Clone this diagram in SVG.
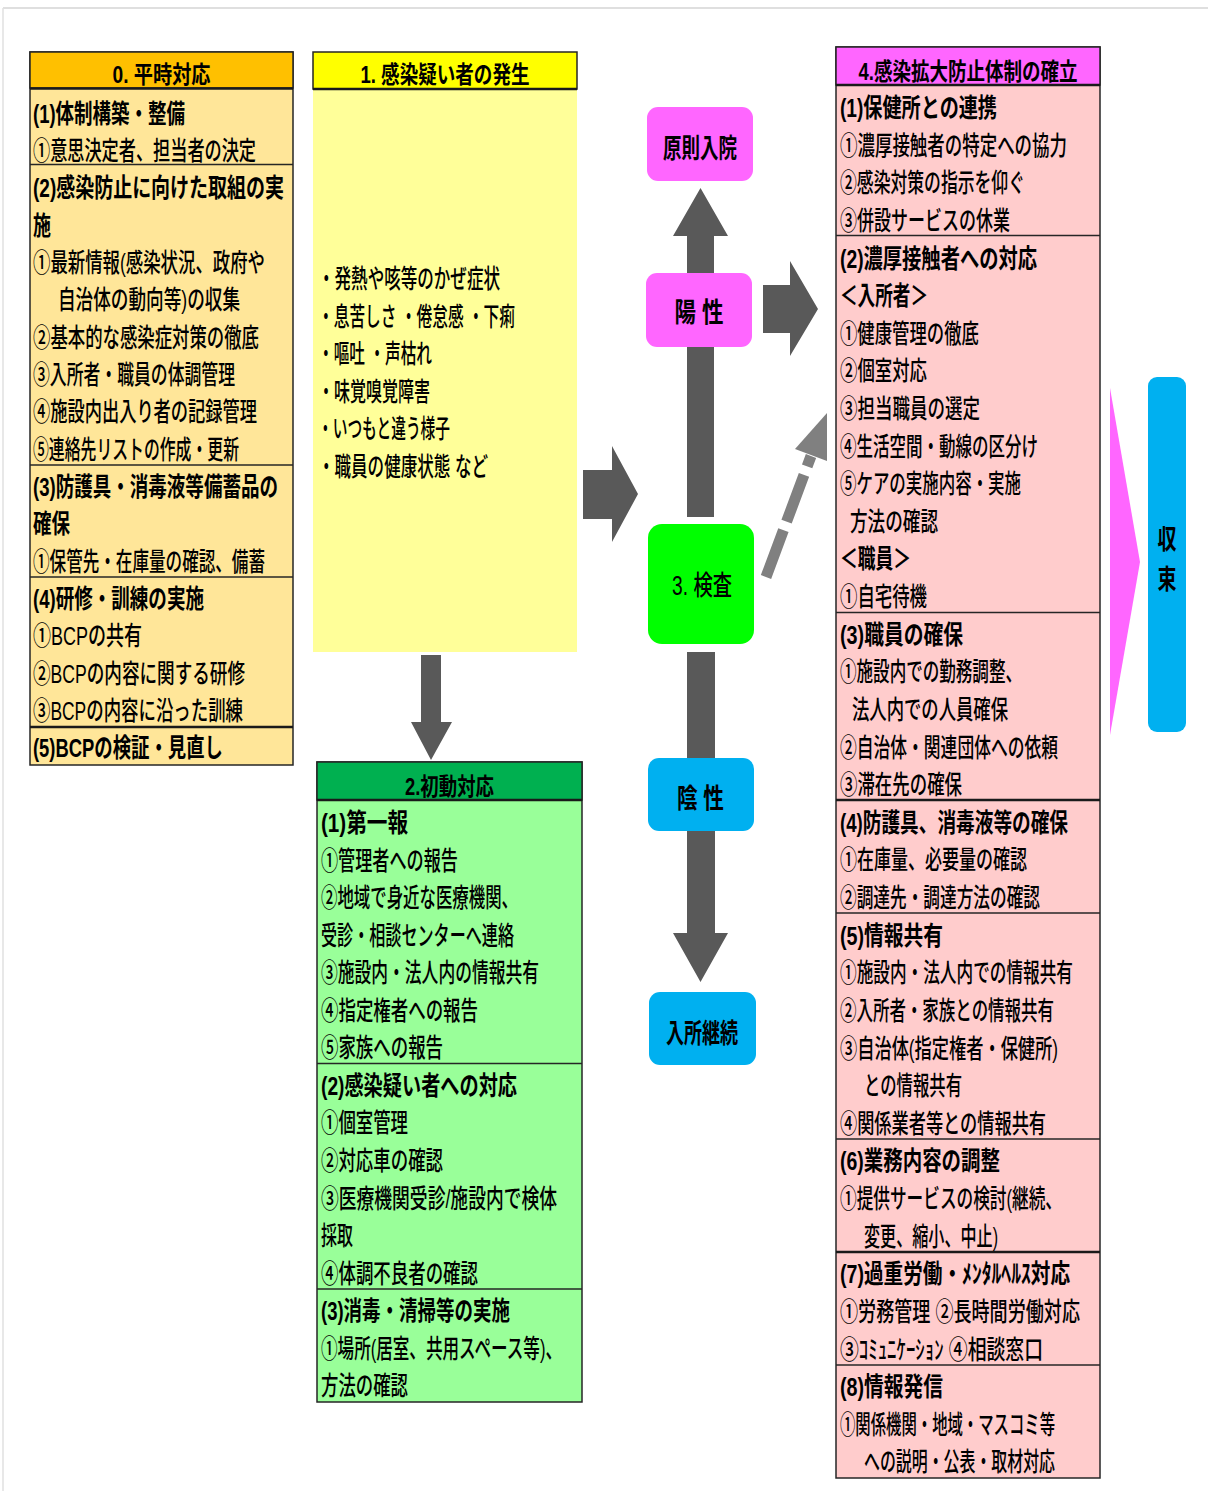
<svg xmlns="http://www.w3.org/2000/svg" width="1208" height="1491" viewBox="0 0 1208 1491">
<style>
.t{font-family:'Liberation Sans','Noto Sans CJK JP',sans-serif;font-size:26px;fill:#000;font-weight:500}
.h{font-family:'Liberation Sans','Noto Sans CJK JP',sans-serif;font-size:24px;fill:#000;font-weight:700;text-anchor:middle}
.m{font-family:'Liberation Sans','Noto Sans CJK JP',sans-serif;font-size:27px;fill:#000;font-weight:700;text-anchor:middle}
.b{font-weight:700}
.box{stroke:#262626;stroke-width:1.5}
.dv{stroke:#262626;stroke-width:1.3}
.dvt{stroke:#1a1a1a;stroke-width:2.6}
.arr{fill:#595959}
</style>
<rect width="1208" height="1491" fill="#fff"/>
<line x1="3" y1="8" x2="1208" y2="8" stroke="#d4d4d4" stroke-width="1.5"/>
<line x1="3" y1="8" x2="3" y2="1491" stroke="#e0e0e0" stroke-width="1.5"/>

<g id="connectors">
  <polygon class="arr" points="421,655 441,655 441,722 452,722 431,760 411,722 421,722"/>
  <polygon class="arr" points="583,470 612,470 612,446 638,494 612,542 612,519 583,519"/>
  <polygon class="arr" points="687,517 687,236 673,236 700.5,188 728,236 714,236 714,517"/>
  <polygon class="arr" points="687,652 715,652 715,933 728,933 700.5,982 673,933 687,933"/>
  <polygon class="arr" points="763,285 790,285 790,261 818,309 790,356 790,333 763,333"/>
  <line x1="766" y1="577" x2="811" y2="456" stroke="#808080" stroke-width="11" stroke-dasharray="50 9"/>
  <polygon fill="#808080" points="827,413 795,449 827,461"/>
  <polygon fill="#FF66FF" points="1110,388 1140,562 1110,735"/>
</g>

<g id="node0">
  <rect x="30" y="52" width="263" height="713" fill="#FFE699" class="box"/>
  <rect x="30" y="52" width="263" height="36" fill="#FFC000" class="box"/>
  <line x1="30" y1="88.5" x2="293" y2="88.5" class="dvt"/>
  <text class="h" x="161.5" y="83" textLength="98" lengthAdjust="spacingAndGlyphs">0. 平時対応</text>
  <line x1="30" y1="164.5" x2="293" y2="164.5" class="dv"/>
  <line x1="30" y1="465" x2="293" y2="465" class="dv"/>
  <line x1="30" y1="577" x2="293" y2="577" class="dv"/>
  <line x1="30" y1="727" x2="293" y2="727" class="dvt"/>
  <text class="t b" x="33" y="122.5" textLength="152" lengthAdjust="spacingAndGlyphs">(1)体制構築・整備</text>
  <text class="t" x="33" y="159.9" textLength="223" lengthAdjust="spacingAndGlyphs">①意思決定者、担当者の決定</text>
  <text class="t b" x="33" y="197.2" textLength="251" lengthAdjust="spacingAndGlyphs">(2)感染防止に向けた取組の実</text>
  <text class="t b" x="33" y="234.6" textLength="18" lengthAdjust="spacingAndGlyphs">施</text>
  <text class="t" x="33" y="271.9" textLength="232" lengthAdjust="spacingAndGlyphs">①最新情報(感染状況、政府や</text>
  <text class="t" x="58" y="309.3" textLength="182" lengthAdjust="spacingAndGlyphs">自治体の動向等)の収集</text>
  <text class="t" x="33" y="346.6" textLength="226" lengthAdjust="spacingAndGlyphs">②基本的な感染症対策の徹底</text>
  <text class="t" x="33" y="383.9" textLength="202" lengthAdjust="spacingAndGlyphs">③入所者・職員の体調管理</text>
  <text class="t" x="33" y="421.3" textLength="224" lengthAdjust="spacingAndGlyphs">④施設内出入り者の記録管理</text>
  <text class="t" x="33" y="458.6" textLength="206" lengthAdjust="spacingAndGlyphs">⑤連絡先リストの作成・更新</text>
  <text class="t b" x="33" y="496" textLength="245" lengthAdjust="spacingAndGlyphs">(3)防護具・消毒液等備蓄品の</text>
  <text class="t b" x="33" y="533.3" textLength="37" lengthAdjust="spacingAndGlyphs">確保</text>
  <text class="t" x="33" y="570.7" textLength="232" lengthAdjust="spacingAndGlyphs">①保管先・在庫量の確認、備蓄</text>
  <text class="t b" x="33" y="608" textLength="171" lengthAdjust="spacingAndGlyphs">(4)研修・訓練の実施</text>
  <text class="t" x="33" y="645.4" textLength="109" lengthAdjust="spacingAndGlyphs">①BCPの共有</text>
  <text class="t" x="33" y="682.7" textLength="212" lengthAdjust="spacingAndGlyphs">②BCPの内容に関する研修</text>
  <text class="t" x="33" y="720.1" textLength="210" lengthAdjust="spacingAndGlyphs">③BCPの内容に沿った訓練</text>
  <text class="t b" x="33" y="757.4" textLength="190" lengthAdjust="spacingAndGlyphs">(5)BCPの検証・見直し</text>
</g>

<g id="node1">
  <rect x="313" y="89" width="264" height="563" fill="#FFFF99"/>
  <rect x="313" y="52" width="264" height="37" fill="#FFFF00" class="box"/>
  <line x1="313" y1="89" x2="577" y2="89" class="dvt"/>
  <text class="h" x="445" y="82.5" textLength="169" lengthAdjust="spacingAndGlyphs">1. 感染疑い者の発生</text>
  <text class="t" x="318" y="288" textLength="182" lengthAdjust="spacingAndGlyphs">・発熱や咳等のかぜ症状</text>
  <text class="t" x="318" y="325.6" textLength="197" lengthAdjust="spacingAndGlyphs">・息苦しさ ・倦怠感 ・下痢</text>
  <text class="t" x="318" y="363.2" textLength="114" lengthAdjust="spacingAndGlyphs">・嘔吐 ・声枯れ</text>
  <text class="t" x="318" y="400.8" textLength="112" lengthAdjust="spacingAndGlyphs">・味覚嗅覚障害</text>
  <text class="t" x="318" y="438.4" textLength="132" lengthAdjust="spacingAndGlyphs">・いつもと違う様子</text>
  <text class="t" x="318" y="476" textLength="170" lengthAdjust="spacingAndGlyphs">・職員の健康状態 など</text>
</g>

<g id="node2">
  <rect x="317" y="762" width="265" height="640" fill="#99FF99" class="box"/>
  <rect x="317" y="762" width="265" height="38" fill="#00B050" class="box"/>
  <line x1="317" y1="800" x2="582" y2="800" class="dvt"/>
  <text class="h" x="449.5" y="795" textLength="89" lengthAdjust="spacingAndGlyphs">2.初動対応</text>
  <line x1="317" y1="1063.5" x2="582" y2="1063.5" class="dv"/>
  <line x1="317" y1="1289" x2="582" y2="1289" class="dv"/>
  <text class="t b" x="321" y="832" textLength="87" lengthAdjust="spacingAndGlyphs">(1)第一報</text>
  <text class="t" x="321" y="869.6" textLength="137" lengthAdjust="spacingAndGlyphs">①管理者への報告</text>
  <text class="t" x="321" y="907.1" textLength="197" lengthAdjust="spacingAndGlyphs">②地域で身近な医療機関、</text>
  <text class="t" x="321" y="944.7" textLength="193" lengthAdjust="spacingAndGlyphs">受診・相談センターへ連絡</text>
  <text class="t" x="321" y="982.2" textLength="218" lengthAdjust="spacingAndGlyphs">③施設内・法人内の情報共有</text>
  <text class="t" x="321" y="1019.8" textLength="157" lengthAdjust="spacingAndGlyphs">④指定権者への報告</text>
  <text class="t" x="321" y="1057.3" textLength="122" lengthAdjust="spacingAndGlyphs">⑤家族への報告</text>
  <text class="t b" x="321" y="1094.9" textLength="196" lengthAdjust="spacingAndGlyphs">(2)感染疑い者への対応</text>
  <text class="t" x="321" y="1132.4" textLength="87" lengthAdjust="spacingAndGlyphs">①個室管理</text>
  <text class="t" x="321" y="1170" textLength="122" lengthAdjust="spacingAndGlyphs">②対応車の確認</text>
  <text class="t" x="321" y="1207.5" textLength="236" lengthAdjust="spacingAndGlyphs">③医療機関受診/施設内で検体</text>
  <text class="t" x="321" y="1245.1" textLength="32" lengthAdjust="spacingAndGlyphs">採取</text>
  <text class="t" x="321" y="1282.6" textLength="157" lengthAdjust="spacingAndGlyphs">④体調不良者の確認</text>
  <text class="t b" x="321" y="1320.2" textLength="189" lengthAdjust="spacingAndGlyphs">(3)消毒・清掃等の実施</text>
  <text class="t" x="321" y="1357.7" textLength="241" lengthAdjust="spacingAndGlyphs">①場所(居室、共用スペース等)、</text>
  <text class="t" x="321" y="1395.3" textLength="87" lengthAdjust="spacingAndGlyphs">方法の確認</text>
</g>

<g id="node-gensoku">
  <rect x="647" y="107" width="106" height="74" rx="11" fill="#FF66FF"/>
  <text class="m" x="700" y="158" textLength="74" lengthAdjust="spacingAndGlyphs">原則入院</text>
</g>
<g id="node-yousei">
  <rect x="646" y="273" width="106" height="74" rx="11" fill="#FF66FF"/>
  <text class="m" x="699" y="322" textLength="49" lengthAdjust="spacingAndGlyphs">陽 性</text>
</g>
<g id="node3">
  <rect x="648" y="524" width="106" height="120" rx="14" fill="#00FF00"/>
  <text class="m" style="font-weight:500" x="702" y="595" textLength="60" lengthAdjust="spacingAndGlyphs">3. 検査</text>
</g>
<g id="node-insei">
  <rect x="648" y="758" width="106" height="73" rx="11" fill="#00B0F0"/>
  <text class="m" x="700.5" y="808" textLength="47" lengthAdjust="spacingAndGlyphs">陰 性</text>
</g>
<g id="node-keizoku">
  <rect x="649" y="992" width="107" height="73" rx="11" fill="#00B0F0"/>
  <text class="m" x="702" y="1043" textLength="72" lengthAdjust="spacingAndGlyphs">入所継続</text>
</g>

<g id="node4">
  <rect x="836" y="47" width="264" height="1431" fill="#FFCCCC" class="box"/>
  <rect x="836" y="47" width="264" height="38" fill="#FF66FF" class="box"/>
  <line x1="836" y1="85" x2="1100" y2="85" class="dvt"/>
  <text class="h" x="968" y="80" textLength="219" lengthAdjust="spacingAndGlyphs">4.感染拡大防止体制の確立</text>
  <line x1="836" y1="235.5" x2="1100" y2="235.5" class="dv"/>
  <line x1="836" y1="612.5" x2="1100" y2="612.5" class="dv"/>
  <line x1="836" y1="800" x2="1100" y2="800" class="dvt"/>
  <line x1="836" y1="913" x2="1100" y2="913" class="dv"/>
  <line x1="836" y1="1139" x2="1100" y2="1139" class="dv"/>
  <line x1="836" y1="1252" x2="1100" y2="1252" class="dvt"/>
  <line x1="836" y1="1365" x2="1100" y2="1365" class="dv"/>
  <text class="t b" x="840" y="117" textLength="157" lengthAdjust="spacingAndGlyphs">(1)保健所との連携</text>
  <text class="t" x="840" y="154.6" textLength="227" lengthAdjust="spacingAndGlyphs">①濃厚接触者の特定への協力</text>
  <text class="t" x="840" y="192.2" textLength="185" lengthAdjust="spacingAndGlyphs">②感染対策の指示を仰ぐ</text>
  <text class="t" x="840" y="229.9" textLength="170" lengthAdjust="spacingAndGlyphs">③併設サービスの休業</text>
  <text class="t b" x="840" y="267.5" textLength="197" lengthAdjust="spacingAndGlyphs">(2)濃厚接触者への対応</text>
  <text class="t b" x="840" y="305.1" textLength="88" lengthAdjust="spacingAndGlyphs">＜入所者＞</text>
  <text class="t" x="840" y="342.7" textLength="139" lengthAdjust="spacingAndGlyphs">①健康管理の徹底</text>
  <text class="t" x="840" y="380.3" textLength="87" lengthAdjust="spacingAndGlyphs">②個室対応</text>
  <text class="t" x="840" y="418" textLength="140" lengthAdjust="spacingAndGlyphs">③担当職員の選定</text>
  <text class="t" x="840" y="455.6" textLength="198" lengthAdjust="spacingAndGlyphs">④生活空間・動線の区分け</text>
  <text class="t" x="840" y="493.2" textLength="181" lengthAdjust="spacingAndGlyphs">⑤ケアの実施内容・実施</text>
  <text class="t" x="850" y="530.8" textLength="88" lengthAdjust="spacingAndGlyphs">方法の確認</text>
  <text class="t b" x="840" y="568.4" textLength="71" lengthAdjust="spacingAndGlyphs">＜職員＞</text>
  <text class="t" x="840" y="606.1" textLength="87" lengthAdjust="spacingAndGlyphs">①自宅待機</text>
  <text class="t b" x="840" y="643.7" textLength="123" lengthAdjust="spacingAndGlyphs">(3)職員の確保</text>
  <text class="t" x="840" y="681.3" textLength="182" lengthAdjust="spacingAndGlyphs">①施設内での勤務調整、</text>
  <text class="t" x="852" y="718.9" textLength="156" lengthAdjust="spacingAndGlyphs">法人内での人員確保</text>
  <text class="t" x="840" y="756.5" textLength="218" lengthAdjust="spacingAndGlyphs">②自治体・関連団体への依頼</text>
  <text class="t" x="840" y="794.2" textLength="122" lengthAdjust="spacingAndGlyphs">③滞在先の確保</text>
  <text class="t b" x="840" y="831.8" textLength="228" lengthAdjust="spacingAndGlyphs">(4)防護具、消毒液等の確保</text>
  <text class="t" x="840" y="869.4" textLength="187" lengthAdjust="spacingAndGlyphs">①在庫量、必要量の確認</text>
  <text class="t" x="840" y="907" textLength="200" lengthAdjust="spacingAndGlyphs">②調達先・調達方法の確認</text>
  <text class="t b" x="840" y="944.6" textLength="103" lengthAdjust="spacingAndGlyphs">(5)情報共有</text>
  <text class="t" x="840" y="982.3" textLength="233" lengthAdjust="spacingAndGlyphs">①施設内・法人内での情報共有</text>
  <text class="t" x="840" y="1019.9" textLength="214" lengthAdjust="spacingAndGlyphs">②入所者・家族との情報共有</text>
  <text class="t" x="840" y="1057.5" textLength="218" lengthAdjust="spacingAndGlyphs">③自治体(指定権者・保健所)</text>
  <text class="t" x="864" y="1095.1" textLength="98" lengthAdjust="spacingAndGlyphs">との情報共有</text>
  <text class="t" x="840" y="1132.7" textLength="206" lengthAdjust="spacingAndGlyphs">④関係業者等との情報共有</text>
  <text class="t b" x="840" y="1170.4" textLength="160" lengthAdjust="spacingAndGlyphs">(6)業務内容の調整</text>
  <text class="t" x="840" y="1208" textLength="222" lengthAdjust="spacingAndGlyphs">①提供サービスの検討(継続、</text>
  <text class="t" x="864" y="1245.6" textLength="134" lengthAdjust="spacingAndGlyphs">変更、縮小、中止)</text>
  <text class="t b" x="840" y="1283.2" textLength="230" lengthAdjust="spacingAndGlyphs">(7)過重労働・ﾒﾝﾀﾙﾍﾙｽ対応</text>
  <text class="t" x="840" y="1320.8" textLength="240" lengthAdjust="spacingAndGlyphs">①労務管理 ②長時間労働対応</text>
  <text class="t" x="840" y="1358.5" textLength="203" lengthAdjust="spacingAndGlyphs">③ｺﾐｭﾆｹｰｼｮﾝ ④相談窓口</text>
  <text class="t b" x="840" y="1396.1" textLength="103" lengthAdjust="spacingAndGlyphs">(8)情報発信</text>
  <text class="t" x="840" y="1433.7" textLength="215" lengthAdjust="spacingAndGlyphs">①関係機関・地域・マスコミ等</text>
  <text class="t" x="864" y="1471.3" textLength="191" lengthAdjust="spacingAndGlyphs">への説明・公表・取材対応</text>
</g>

<g id="node-shuusoku">
  <rect x="1148" y="377" width="38" height="355" rx="9" fill="#00B0F0"/>
  <text class="m" x="1167" y="549" textLength="19" lengthAdjust="spacingAndGlyphs">収</text>
  <text class="m" x="1167" y="589" textLength="19" lengthAdjust="spacingAndGlyphs">束</text>
</g>
</svg>
